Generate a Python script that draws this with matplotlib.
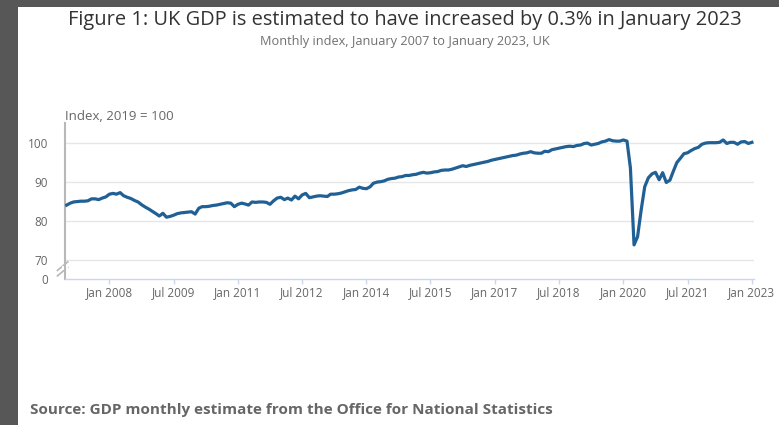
import numpy as np
import pandas as pd
import matplotlib
matplotlib.use("Agg")
import matplotlib.pyplot as plt
from matplotlib.patches import Rectangle
from matplotlib.lines import Line2D

plt.rcParams["font.family"] = ["Open Sans", "DejaVu Sans"]

# Monthly GDP index (2019 = 100), one list per year
gdp_2007 = [84.0, 84.5, 84.8, 84.9, 85.0, 85.0, 85.1, 85.6, 85.6, 85.4, 85.8, 86.1]
gdp_2008 = [86.8, 87.0, 86.8, 87.2, 86.4, 86.0, 85.7, 85.2, 84.8, 84.1, 83.5, 83.0]
gdp_2009 = [82.4, 81.8, 81.2, 81.9, 80.9, 81.1, 81.4, 81.8, 82.0, 82.1, 82.2, 82.3]
gdp_2010 = [81.7, 83.2, 83.6, 83.6, 83.7, 83.9, 84.0, 84.2, 84.4, 84.6, 84.5, 83.6]
gdp_2011 = [84.2, 84.5, 84.3, 84.0, 84.8, 84.7, 84.8, 84.8, 84.7, 84.2, 85.1, 85.8]
gdp_2012 = [86.0, 85.4, 85.8, 85.3, 86.3, 85.6, 86.6, 87.0, 85.9, 86.1, 86.3, 86.4]
gdp_2013 = [86.3, 86.2, 86.8, 86.8, 86.9, 87.1, 87.4, 87.7, 87.9, 88.0, 88.6, 88.3]
gdp_2014 = [88.2, 88.7, 89.6, 89.9, 90.0, 90.2, 90.6, 90.8, 90.9, 91.2, 91.3, 91.6]
gdp_2015 = [91.6, 91.8, 91.9, 92.2, 92.4, 92.2, 92.3, 92.5, 92.6, 92.9, 93.0, 93.0]
gdp_2016 = [93.2, 93.5, 93.8, 94.1, 93.9, 94.2, 94.4, 94.6, 94.8, 95.0, 95.2, 95.5]
gdp_2017 = [95.7, 95.9, 96.1, 96.3, 96.5, 96.7, 96.8, 97.1, 97.3, 97.4, 97.7, 97.4]
gdp_2018 = [97.3, 97.3, 97.8, 97.7, 98.2, 98.4, 98.6, 98.8, 99.0, 99.1, 99.0, 99.3]
gdp_2019 = [99.4, 99.8, 99.9, 99.4, 99.6, 99.8, 100.2, 100.4, 100.8, 100.5, 100.4, 100.4]
gdp_2020 = [100.7, 100.4, 93.5, 73.8, 75.9, 82.8, 88.7, 91.0, 92.0, 92.4, 90.5, 92.3]
gdp_2021 = [89.8, 90.4, 92.6, 94.9, 96.0, 97.2, 97.4, 98.0, 98.5, 98.8, 99.6, 99.9]
gdp_2022 = [100.0, 100.0, 100.0, 100.1, 100.7, 99.8, 100.1, 100.1, 99.6, 100.2, 100.3, 99.8]
gdp_2023 = [100.1]

tick_dates = ["2008-01", "2009-07", "2011-01", "2012-07", "2014-01", "2015-07",
              "2017-01", "2018-07", "2020-01", "2021-07", "2023-01"]
tick_labels = ["Jan 2008", "Jul 2009", "Jan 2011", "Jul 2012", "Jan 2014", "Jul 2015",
               "Jan 2017", "Jul 2018", "Jan 2020", "Jul 2021", "Jan 2023"]
y_ticks = [70, 80, 90, 100]

gdp = (gdp_2007 + gdp_2008 + gdp_2009 + gdp_2010 + gdp_2011 + gdp_2012 + gdp_2013
       + gdp_2014 + gdp_2015 + gdp_2016 + gdp_2017 + gdp_2018 + gdp_2019 + gdp_2020
       + gdp_2021 + gdp_2022 + gdp_2023)
months = pd.date_range("2007-01-01", periods=len(gdp), freq="MS")

W, H = 779, 425
fig = plt.figure(figsize=(W / 100, H / 100), dpi=100, facecolor="#575757")
# white page on the dark frame
fig.add_artist(Rectangle((18 / W, 0), 1 - 18 / W, 1 - 7 / H, transform=fig.transFigure,
                         facecolor="white", edgecolor="none", zorder=0))

ax = fig.add_axes([65 / W, 1 - 279 / H, (754 - 65) / W, (279 - 123) / H])
ax.set_facecolor("white")

ax.plot(months, gdp, color="#206095", linewidth=2.3, solid_joinstyle="round", zorder=3)

y_bottom = 65.05
ax.set_ylim(y_bottom, 105.05)
ax.set_xlim(pd.Timestamp("2006-12-18"), pd.Timestamp("2023-01-19"))

for v in y_ticks:
    ax.axhline(v, color="#e6e6e6", linewidth=1, zorder=1)

ax.set_yticks([y_bottom] + y_ticks)
ax.set_yticklabels(["0"] + [str(v) for v in y_ticks])
ax.tick_params(axis="y", length=0, pad=12, labelsize=8.5, labelcolor="#666666")

ax.set_xticks(pd.to_datetime(tick_dates))
ax.set_xticklabels(tick_labels)
ax.tick_params(axis="x", length=3.8, width=1, color="#ccd6eb", pad=1.5,
               labelsize=8.5, labelcolor="#666666")

for s in ["top", "right"]:
    ax.spines[s].set_visible(False)
ax.spines["left"].set_color("#b8b8b8")
ax.spines["left"].set_linewidth(1.5)
ax.spines["bottom"].set_color("#ccd6eb")
ax.spines["bottom"].set_linewidth(1)

# axis break marks
for dy in (0.0, 0.035):
    ax.add_line(Line2D([-0.011, 0.004], [0.02 + dy, 0.075 + dy], transform=ax.transAxes,
                       color="#b8b8b8", linewidth=1.2, clip_on=False))
ax.add_patch(Rectangle((-0.004, 0.055), 0.008, 0.03, transform=ax.transAxes,
                       facecolor="white", edgecolor="none", clip_on=False, zorder=2))

fig.text(405 / W, 1 - 20 / H, "Figure 1: UK GDP is estimated to have increased by 0.3% in January 2023",
         ha="center", va="center", fontsize=14.4, color="#333333")
fig.text(405 / W, 1 - 41 / H, "Monthly index, January 2007 to January 2023, UK",
         ha="center", va="center", fontsize=9.2, color="#707070")
fig.text(65 / W, 1 - 117 / H, "Index, 2019 = 100", ha="left", va="center",
         fontsize=9.5, color="#666666")
fig.text(30 / W, 1 - 410 / H, "Source: GDP monthly estimate from the Office for National Statistics",
         ha="left", va="center", fontsize=11, fontweight="bold", color="#666666")

fig.savefig("out.png", dpi=100, facecolor=fig.get_facecolor())
